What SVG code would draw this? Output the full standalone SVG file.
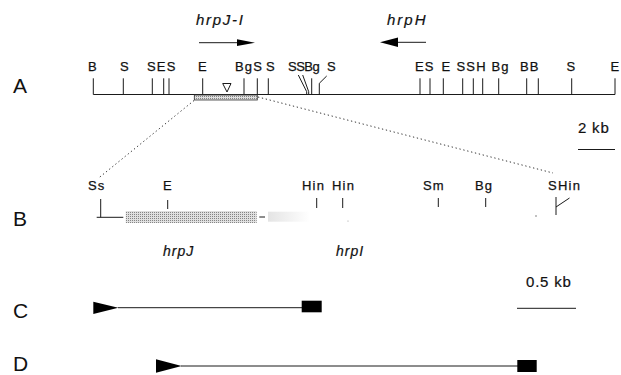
<svg xmlns="http://www.w3.org/2000/svg" width="621" height="375" viewBox="0 0 621 375">
<style>
.ln{stroke:#1a1a1a;stroke-width:1;fill:none}
.lb{font-family:"Liberation Sans",Arial,sans-serif;font-size:13px;letter-spacing:1.2px;fill:#111;stroke:#111;stroke-width:0.25}
.row{font-family:"Liberation Sans",Arial,sans-serif;font-size:21px;fill:#111}
.gene{font-family:"Liberation Sans",Arial,sans-serif;font-style:italic;fill:#111;stroke:#111;stroke-width:0.2}
.sc{font-family:"Liberation Sans",Arial,sans-serif;font-size:15px;letter-spacing:0.8px;fill:#111;stroke:#111;stroke-width:0.2}
.dot{stroke:#333;stroke-width:1;stroke-dasharray:1.3 2.7;fill:none}
.blk{fill:#000}
</style>
<defs>
<pattern id="stip" width="2" height="2" patternUnits="userSpaceOnUse">
<rect width="2" height="2" fill="#e0e0e0"/>
<rect width="1" height="1" fill="#858585"/>
</pattern>
<linearGradient id="fade" x1="0" y1="0" x2="1" y2="0">
<stop offset="0" stop-color="#e4e4e4"/>
<stop offset="1" stop-color="#ffffff"/>
</linearGradient>
</defs>

<g id="row-labels">
<text class="row" x="13" y="93">A</text>
<text class="row" x="13" y="225.5">B</text>
<text class="row" x="13" y="318">C</text>
<text class="row" x="13" y="371">D</text>
</g>

<g id="gene-arrows">
<text class="gene" x="196" y="25" font-size="15" letter-spacing="1.7">hrpJ-I</text>
<line class="ln" x1="199" y1="42.7" x2="240" y2="42.7"/>
<polygon class="blk" points="237,39.3 255,42.7 237,46"/>
<text class="gene" x="387" y="25" font-size="15" letter-spacing="2">hrpH</text>
<line class="ln" x1="395" y1="42.3" x2="426" y2="42.3"/>
<polygon class="blk" points="398,37.5 380,42.3 398,47"/>
</g>

<g id="map-A">
<line class="ln" x1="93.3" y1="94.5" x2="615" y2="94.5"/>
<g class="lb">
<text x="88" y="71">B</text>
<text x="120" y="71">S</text>
<text x="147" y="71">SES</text>
<text x="198" y="71">E</text>
<text x="235" y="71">BgS</text>
<text x="266" y="71">S</text>
<text x="288" y="71" letter-spacing="-0.5">SSBg</text>
<text x="327" y="71">S</text>
<text x="415" y="71">ES</text>
<text x="441.5" y="71">E</text>
<text x="456.5" y="71">SSH</text>
<text x="491.5" y="71">Bg</text>
<text x="520" y="71">BB</text>
<text x="566.5" y="71">S</text>
<text x="610.5" y="71">E</text>
</g>
<path class="ln" d="M93.3 78.3V94.5M123.3 78.3V94.5M152.3 78.3V94.5M163.7 78.3V94.5M169 78.3V94.5M202.7 78.3V94.5M244 78.3V94.5M257.3 78.3V94.5M268.3 78.3V94.5M298.3 75L306.7 91.7V94.5M302.7 75L308.7 91.7V94.5M311.7 78.3V94.5M326.7 76L319.3 83.3V94.5M420 78.3V94.5M430 78.3V94.5M443.3 78.3V94.5M462.7 78.3V94.5M473.3 78.3V94.5M482.7 78.3V94.5M498.7 78.3V94.5M526.7 78.3V94.5M538.3 78.3V94.5M571.7 78.3V94.5M615 78.3V94.5"/>
<polygon class="ln" points="222.7,83.5 231,83.5 227,92"/>
<rect x="194.3" y="95" width="63" height="5" fill="url(#stip)" stroke="#333" stroke-width="0.8"/>
</g>

<g id="zoom-lines">
<line class="dot" x1="194" y1="100.5" x2="98" y2="178.5"/>
<line class="dot" x1="258" y1="97" x2="553" y2="173"/>
</g>

<g id="scale-2kb">
<text class="sc" x="578" y="133">2 kb</text>
<line class="ln" x1="578" y1="149.5" x2="615" y2="149.5"/>
</g>

<g id="map-B">
<g class="lb">
<text x="88" y="190">Ss</text>
<text x="163" y="190">E</text>
<text x="302" y="190">Hin</text>
<text x="332" y="190">Hin</text>
<text x="423" y="190">Sm</text>
<text x="475" y="190">Bg</text>
<text x="548" y="190">S</text>
<text x="558" y="190">Hin</text>
</g>
<path class="ln" d="M100.7 199V217.3M96.7 217.3H123.3M167.7 200V209M316.7 198V208M342.7 198V208M438.3 198V207M485.7 198V207M556 197V215M556 207L569.5 198M259.3 217H265"/>
<rect x="125.7" y="211" width="131" height="12" fill="url(#stip)"/>
<rect x="268" y="211.7" width="42" height="10" fill="url(#fade)"/>
<circle cx="536" cy="216" r="0.7" fill="#555"/>
<circle cx="348" cy="221" r="0.6" fill="#999"/>
<text class="gene" x="163" y="256" font-size="14" letter-spacing="1">hrpJ</text>
<text class="gene" x="336" y="256" font-size="14" letter-spacing="1">hrpI</text>
</g>

<g id="scale-05kb">
<text class="sc" x="526" y="287">0.5 kb</text>
<line class="ln" x1="517" y1="308.3" x2="576" y2="308.3"/>
</g>

<g id="construct-C">
<polygon class="blk" points="93.3,301.7 118.3,307.7 93.3,314"/>
<line class="ln" x1="118" y1="307.7" x2="302" y2="307.7"/>
<rect class="blk" x="301.7" y="300.7" width="20" height="11.6"/>
</g>

<g id="construct-D">
<polygon class="blk" points="156,359.3 181.7,366 156,372.7"/>
<line class="ln" x1="181" y1="366" x2="518" y2="366"/>
<rect class="blk" x="517.3" y="360" width="19.4" height="12"/>
</g>
</svg>
